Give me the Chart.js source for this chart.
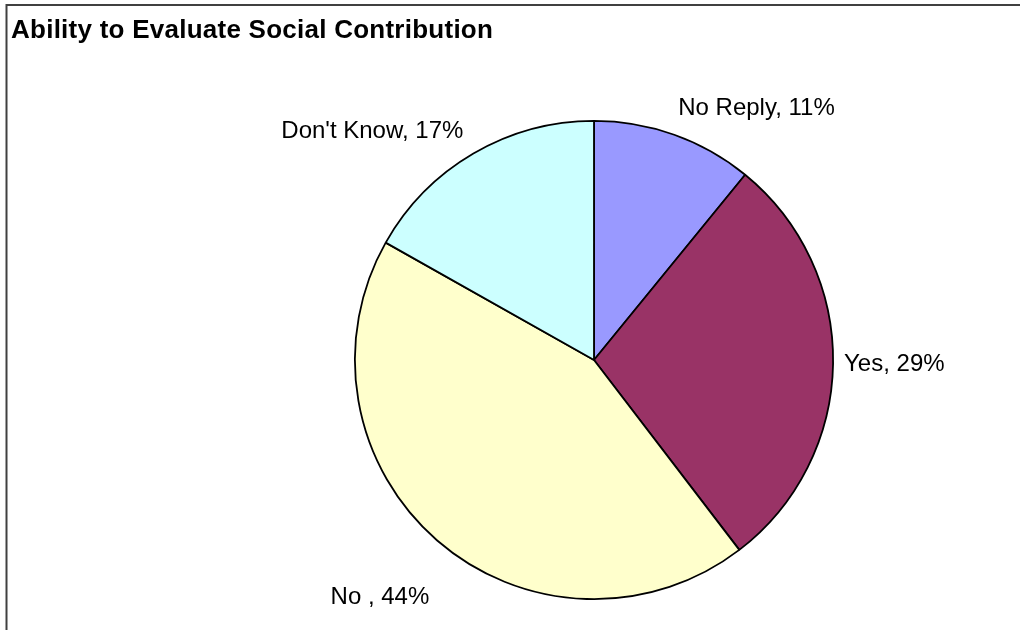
<!DOCTYPE html>
<html>
<head>
<meta charset="utf-8">
<title>Ability to Evaluate Social Contribution</title>
<script src="https://cdn.jsdelivr.net/npm/chart.js@4.4.1/dist/chart.umd.min.js"></script>
<style>
    html, body { margin: 0; padding: 0; background: #ffffff; }
    canvas { display: block; }
</style>
</head>
<body>
<canvas id="pie-chart" width="1020" height="630"></canvas>
<script>
    'use strict';

    // Survey answers, clockwise from 12 o'clock
    var answers = ['No Reply', 'Yes', 'No ', "Don't Know"];
    var shares = [11, 29, 44, 17];
    var sliceColors = ['#9999ff', '#993366', '#ffffcc', '#ccffff'];

    var chartTitle = 'Ability to Evaluate Social Contribution';

    // Per-label nudges from the default anchor just outside each slice
    var labelStyle = [
        { align: 'left', baseline: 'alphabetic', dx: 0, dy: -8 },
        { align: 'left', baseline: 'middle', dx: -1, dy: 0 },
        { align: 'right', baseline: 'middle', dx: 0, dy: 48 },
        { align: 'right', baseline: 'alphabetic', dx: -4, dy: -5 }
    ];

    // Frame and title drawn straight onto the canvas
    var framePlugin = {
        id: 'frameAndTitle',
        beforeDraw: function(chart) {
            var ctx = chart.ctx;
            ctx.save();
            ctx.strokeStyle = '#404040';
            ctx.lineWidth = 2;
            ctx.beginPath();
            ctx.moveTo(1020, 5);
            ctx.lineTo(6.5, 5);
            ctx.lineTo(6.5, 630);
            ctx.stroke();

            ctx.fillStyle = '#000000';
            ctx.font = 'bold 26px "Liberation Sans", Arial, sans-serif';
            ctx.letterSpacing = '0.25px';
            ctx.textAlign = 'left';
            ctx.textBaseline = 'alphabetic';
            ctx.fillText(chartTitle, 11, 38);
            ctx.restore();
        }
    };

    // "Category, NN%" labels placed outside each slice
    var sliceLabels = {
        id: 'sliceLabels',
        afterDatasetsDraw: function(chart) {
            var ctx = chart.ctx;
            var meta = chart.getDatasetMeta(0);
            ctx.save();
            ctx.fillStyle = '#000000';
            ctx.font = '24px "Liberation Sans", Arial, sans-serif';
            meta.data.forEach(function(arc, i) {
                var p = arc.getProps(['x', 'y', 'startAngle', 'endAngle', 'outerRadius'], true);
                var mid = (p.startAngle + p.endAngle) / 2;
                var r = p.outerRadius + 12;
                var s = labelStyle[i];
                ctx.textAlign = s.align;
                ctx.textBaseline = s.baseline;
                ctx.fillText(answers[i] + ', ' + shares[i] + '%',
                    p.x + Math.cos(mid) * r + s.dx,
                    p.y + Math.sin(mid) * r + s.dy);
            });
            ctx.restore();
        }
    };

    new Chart(document.getElementById('pie-chart'), {
        type: 'pie',
        data: {
            labels: answers,
            datasets: [{
                data: shares,
                backgroundColor: sliceColors,
                borderColor: '#000000',
                borderWidth: 1.8
            }]
        },
        options: {
            responsive: false,
            devicePixelRatio: 1,
            animation: false,
            layout: {
                padding: { left: 354, right: 186, top: 120, bottom: 30 }
            },
            plugins: {
                legend: { display: false },
                title: { display: false },
                tooltip: { enabled: false }
            }
        },
        plugins: [framePlugin, sliceLabels]
    });
</script>
</body>
</html>
